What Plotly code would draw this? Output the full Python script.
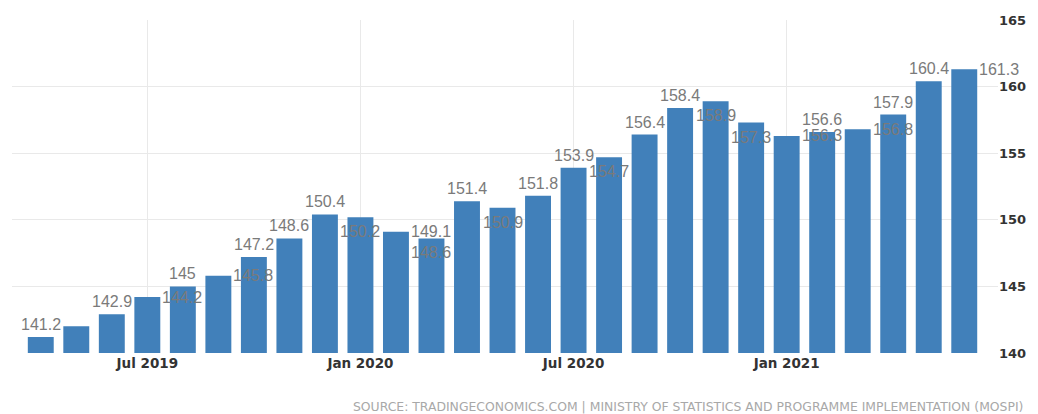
import plotly.graph_objects as go

months = ["Apr 2019", "May 2019", "Jun 2019", "Jul 2019", "Aug 2019", "Sep 2019",
          "Oct 2019", "Nov 2019", "Dec 2019", "Jan 2020", "Feb 2020", "Mar 2020",
          "Apr 2020", "May 2020", "Jun 2020", "Jul 2020", "Aug 2020", "Sep 2020",
          "Oct 2020", "Nov 2020", "Dec 2020", "Jan 2021", "Feb 2021", "Mar 2021",
          "Apr 2021", "May 2021", "Jun 2021"]
values = [141.2, 142.0, 142.9, 144.2, 145.0, 145.8, 147.2, 148.6, 150.4, 150.2,
          149.1, 148.6, 151.4, 150.9, 151.8, 153.9, 154.7, 156.4, 158.4, 158.9,
          157.3, 156.3, 156.6, 156.8, 157.9, 160.4, 161.3]
tick_months = ["Jul 2019", "Jan 2020", "Jul 2020", "Jan 2021"]
y_ticks = [140, 145, 150, 155, 160, 165]
source = "SOURCE: TRADINGECONOMICS.COM | MINISTRY OF STATISTICS AND PROGRAMME IMPLEMENTATION (MOSPI)"

# label placement style per bar
label_modes = ["above", "none", "above", "next", "above", "next", "above", "above",
               "above", "below", "next", "below", "above", "below", "above", "above",
               "below", "above", "above", "below", "below", "next", "above", "next",
               "above", "above", "next"]

BAR = "#4180ba"
GRID = "#e9e9e9"
FONT = "Liberation Sans, Arial, sans-serif"
TICKFONT = "DejaVu Sans, Verdana, sans-serif"
BARGAP = 0.27

fig = go.Figure(go.Bar(x=months, y=values, marker=dict(color=BAR, line=dict(width=0)),
                       hoverinfo="skip"))

annotations = []
for i, (v, mode) in enumerate(zip(values, label_modes)):
    if mode == "none":
        continue
    t = f"{v:g}"
    base = dict(xref="x", yref="y", y=v, text=t, showarrow=False,
                font=dict(family=FONT, size=16, color="#7a7a7a"))
    if mode == "above":
        base.update(x=i, xanchor="center", yanchor="bottom", yshift=2)
    elif mode == "below":
        base.update(x=i, xanchor="center", yanchor="top", yshift=-4)
    else:
        base.update(x=i + (1 - BARGAP) / 2, xanchor="left", yanchor="middle")
    annotations.append(base)

annotations.append(dict(xref="paper", yref="paper", x=1.027, y=-0.162, xanchor="right",
                        yanchor="middle", text=source, showarrow=False,
                        font=dict(family=TICKFONT, size=12.4, color="#a8a8a8")))

fig.update_layout(
    width=1038, height=414,
    margin=dict(l=12, r=35, t=20, b=61),
    plot_bgcolor="white", paper_bgcolor="white",
    bargap=BARGAP, showlegend=False,
    annotations=annotations,
)
fig.update_xaxes(type="category", range=[-0.81, 26.95], tickmode="array",
                 tickvals=tick_months, ticktext=tick_months, showgrid=True,
                 gridcolor=GRID, gridwidth=1, ticks="", showline=False, zeroline=False,
                 tickfont=dict(family=TICKFONT, size=13.5, color="#333333", weight="bold"))
fig.update_yaxes(side="right", range=[140, 165], tickmode="array", tickvals=y_ticks,
                 showgrid=True, gridcolor=GRID, gridwidth=1, ticks="", showline=False,
                 zeroline=False,
                 tickfont=dict(family=TICKFONT, size=13, color="#333333", weight="bold"))

fig.write_html("out.html")
